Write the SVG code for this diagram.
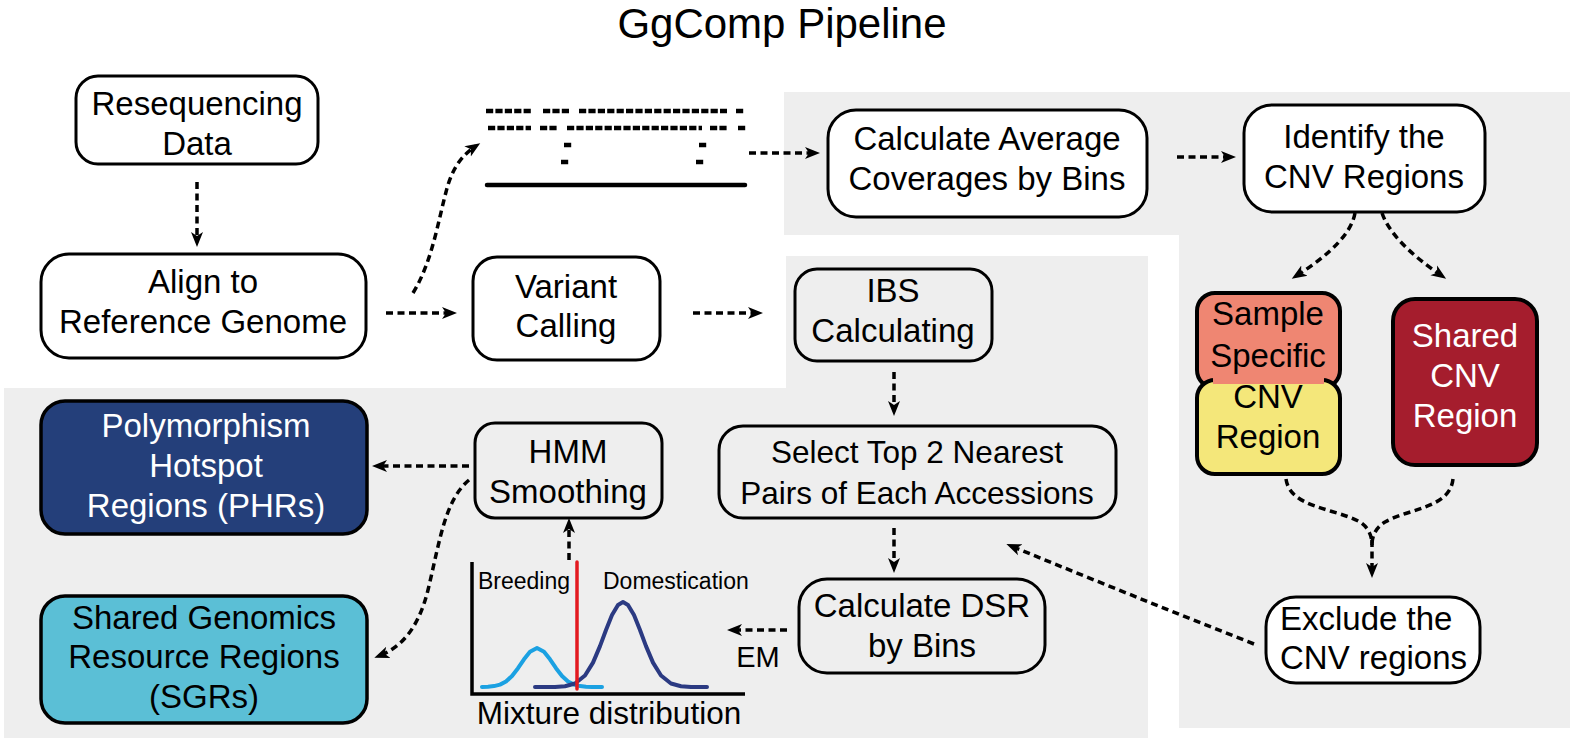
<svg xmlns="http://www.w3.org/2000/svg" width="1576" height="743" viewBox="0 0 1576 743">
<style>
.bg{fill:#eeeeee}
.box{stroke:#000;stroke-width:3}
.w{fill:#ffffff}
.g{fill:#eeeeee}
.t{font-family:"Liberation Sans",Arial,Helvetica,sans-serif;font-size:33px;text-anchor:middle;fill:#000}
.tw{fill:#ffffff}
.c{fill:none;stroke:#000;stroke-width:3.5;stroke-dasharray:7 4.5}
.reads{stroke:#000;stroke-width:4.5;stroke-dasharray:7.2 2.2;fill:none}
</style>
<defs>
<marker id="ah" markerUnits="userSpaceOnUse" markerWidth="16" markerHeight="14" viewBox="0 0 16 14" refX="10" refY="7" orient="auto">
<path d="M0,1 L15,7 L0,13 L4,7 z" fill="#000"/>
</marker>
</defs>
<rect width="1576" height="743" fill="#ffffff"/>
<g id="backgrounds">
<polygon class="bg" points="784,92 1570,92 1570,728 1179,728 1179,235 784,235"/>
<polygon class="bg" points="786,256 1148,256 1148,738 4,738 4,388 786,388"/>
</g>
<text id="title" x="782" y="38" class="t" style="font-size:42px">GgComp Pipeline</text>

<g id="reads-illustration">
<line class="reads" x1="486" y1="111" x2="533" y2="111"/>
<line class="reads" x1="543" y1="111" x2="570" y2="111"/>
<line class="reads" x1="579" y1="111" x2="727" y2="111"/>
<line class="reads" x1="736" y1="111" x2="744" y2="111"/>
<line class="reads" x1="488" y1="128" x2="531" y2="128"/>
<line class="reads" x1="540" y1="128" x2="558" y2="128"/>
<line class="reads" x1="567" y1="128" x2="702" y2="128"/>
<line class="reads" x1="710" y1="128" x2="727" y2="128"/>
<line class="reads" x1="738" y1="128" x2="746" y2="128"/>
<line class="reads" x1="564" y1="145" x2="573" y2="145"/>
<line class="reads" x1="699" y1="145" x2="708" y2="145"/>
<line class="reads" x1="561" y1="162" x2="569" y2="162"/>
<line class="reads" x1="696" y1="162" x2="705" y2="162"/>
<line x1="487" y1="185" x2="745" y2="185" stroke="#000" stroke-width="4.5" stroke-linecap="round"/>
</g>

<g id="mixture-plot">
<polyline points="472,562 472,694 745,694" fill="none" stroke="#000" stroke-width="3.5"/>
<polyline fill="none" stroke="#1ba1e2" stroke-width="4" stroke-linecap="round" stroke-linejoin="round" points="482,686.9 488,686.7 494,686.1 500,684.6 506,681.5 512,676 518,668.2 524,659.3 530,651.7 537,648 544,651.7 550,659.3 556,668.2 562,676 568,681.5 574,684.6 580,686.1 586,686.7 592,686.9 602,687"/>
<polyline fill="none" stroke="#2b3a82" stroke-width="4" stroke-linecap="round" stroke-linejoin="round" points="535,687 545,687 555,686.9 565,686.2 575,683.5 585,675.5 593,662.6 600,646.1 606,630 612,615.1 618,604.9 623,602 628,604.9 634,615.1 640,630 646,646.1 653,662.6 661,675.5 671,683.5 681,686.2 691,686.9 707,687"/>
<line x1="577" y1="562" x2="577" y2="689" stroke="#e3191f" stroke-width="3.5" stroke-linecap="round"/>
<text x="478" y="589" class="t" style="font-size:23px;text-anchor:start">Breeding</text>
<text x="603" y="589" class="t" style="font-size:23px;text-anchor:start">Domestication</text>
<text x="609" y="724" class="t" style="font-size:31.5px">Mixture distribution</text>
</g>

<g id="connectors">
<path class="c" d="M197,182 L197,242" marker-end="url(#ah)"/>
<path class="c" d="M413,293 C432,262 438,222 446,192 C452,168 462,155 476,146" marker-end="url(#ah)"/>
<path class="c" d="M386,313 L452,313" marker-end="url(#ah)"/>
<path class="c" d="M693,313 L758,313" marker-end="url(#ah)"/>
<path class="c" d="M749,153 L815,153" marker-end="url(#ah)"/>
<path class="c" d="M1177,157 L1231,157" marker-end="url(#ah)"/>
<path class="c" d="M1355,213 Q1350,242 1296,276" marker-end="url(#ah)"/>
<path class="c" d="M1382,213 Q1392,242 1442,276" marker-end="url(#ah)"/>
<path class="c" d="M1286,479 C1290,508 1335,508 1360,522 Q1372,530 1372,545"/>
<path class="c" d="M1453,479 C1450,508 1410,508 1385,522 Q1372,530 1372,545"/>
<path class="c" d="M1372,540 L1372,573" marker-end="url(#ah)"/>
<path class="c" d="M1254,644 Q1130,595 1011,546" marker-end="url(#ah)"/>
<path class="c" d="M894,372 L894,411" marker-end="url(#ah)"/>
<path class="c" d="M894,528 L894,568" marker-end="url(#ah)"/>
<path class="c" d="M787,630 L732,630" marker-end="url(#ah)"/>
<text x="758" y="667" class="t" style="font-size:29px">EM</text>
<path class="c" d="M569,560 L569,523" marker-end="url(#ah)"/>
<path class="c" d="M469,466 L377,466" marker-end="url(#ah)"/>
<path class="c" d="M469,480 C445,500 440,540 428,590 C418,630 400,648 379,656" marker-end="url(#ah)"/>
</g>

<g id="resequencing">
<rect class="box w" x="76" y="76" width="242" height="88" rx="22"/>
<text class="t" x="197" y="115">Resequencing</text>
<text class="t" x="197" y="155">Data</text>
</g>
<g id="align">
<rect class="box w" x="41" y="254" width="325" height="104" rx="28"/>
<text class="t" x="203" y="293">Align to</text>
<text class="t" x="203" y="333">Reference Genome</text>
</g>
<g id="variant">
<rect class="box w" x="473" y="257" width="187" height="103" rx="24"/>
<text class="t" x="566" y="298">Variant</text>
<text class="t" x="566" y="337">Calling</text>
</g>
<g id="calc-coverage">
<rect class="box w" x="828" y="110" width="319" height="107" rx="28"/>
<text class="t" x="987" y="150">Calculate Average</text>
<text class="t" x="987" y="190">Coverages by Bins</text>
</g>
<g id="identify-cnv">
<rect class="box w" x="1244" y="105" width="241" height="107" rx="28"/>
<text class="t" x="1364" y="148">Identify the</text>
<text class="t" x="1364" y="188">CNV Regions</text>
</g>
<g id="ibs">
<rect class="box g" x="795" y="269" width="197" height="92" rx="22"/>
<text class="t" x="893" y="302">IBS</text>
<text class="t" x="893" y="342">Calculating</text>
</g>
<g id="select-pairs">
<rect class="box g" x="719" y="426" width="397" height="92" rx="24"/>
<text class="t" x="917" y="463" style="font-size:31.5px">Select Top 2 Nearest</text>
<text class="t" x="917" y="504" style="font-size:31.5px">Pairs of Each Accessions</text>
</g>
<g id="dsr">
<rect class="box g" x="799" y="579" width="246" height="94" rx="28"/>
<text class="t" x="922" y="617">Calculate DSR</text>
<text class="t" x="922" y="657">by Bins</text>
</g>
<g id="hmm">
<rect class="box g" x="475" y="423" width="187" height="95" rx="20"/>
<text class="t" x="568" y="463">HMM</text>
<text class="t" x="568" y="503">Smoothing</text>
</g>
<g id="phr">
<rect class="box" x="41" y="401" width="326" height="133" rx="24" fill="#243f7a" style="stroke-width:3.5"/>
<text class="t tw" x="206" y="437">Polymorphism</text>
<text class="t tw" x="206" y="477">Hotspot</text>
<text class="t tw" x="206" y="517">Regions (PHRs)</text>
</g>
<g id="sgr">
<rect class="box" x="41" y="596" width="326" height="127" rx="24" fill="#5bbfd6" style="stroke-width:3.5"/>
<text class="t" x="204" y="629">Shared Genomics</text>
<text class="t" x="204" y="668">Resource Regions</text>
<text class="t" x="204" y="708">(SGRs)</text>
</g>
<g id="sample-specific-cnv">
<rect class="box" x="1197" y="293" width="143" height="95" rx="18" fill="#ef8672" style="stroke-width:4"/>
<rect class="box" x="1197" y="380" width="143" height="94" rx="18" fill="#f4e77a" style="stroke-width:4"/>
<rect x="1213" y="372" width="111" height="12" fill="#ef8672"/>
<rect x="1213" y="384" width="111" height="12" fill="#f4e77a"/>
<text class="t" x="1268" y="325">Sample</text>
<text class="t" x="1268" y="367">Specific</text>
<text class="t" x="1268" y="408">CNV</text>
<text class="t" x="1268" y="448">Region</text>
</g>
<g id="shared-cnv">
<rect class="box" x="1393" y="299" width="144" height="166" rx="22" fill="#a51d2d" style="stroke-width:4"/>
<text class="t tw" x="1465" y="347">Shared</text>
<text class="t tw" x="1465" y="387">CNV</text>
<text class="t tw" x="1465" y="427">Region</text>
</g>
<g id="exclude-cnv">
<rect class="box w" x="1266" y="597" width="214" height="86" rx="30"/>
<text class="t" x="1280" y="630" style="text-anchor:start">Exclude the</text>
<text class="t" x="1280" y="669" style="text-anchor:start">CNV regions</text>
</g>
</svg>
